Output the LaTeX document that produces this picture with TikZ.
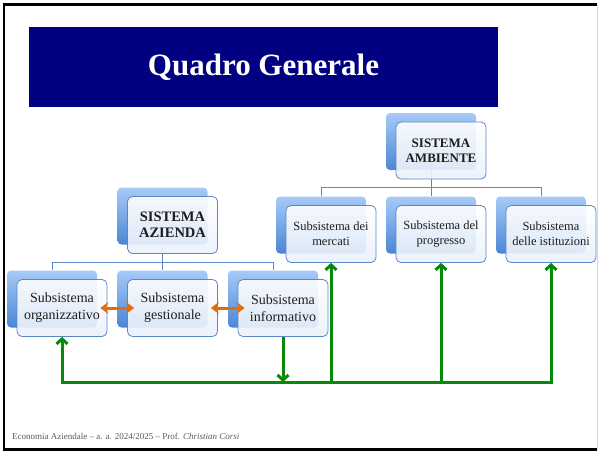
\documentclass[tikz,border=0pt]{standalone}
\usepackage{fontspec}
\setmainfont{Liberation Serif}
\usetikzlibrary{arrows.meta,backgrounds}

\definecolor{slidenavy}{HTML}{000080}
\definecolor{boxlight}{HTML}{A7CAF7}
\definecolor{boxdark}{HTML}{4A86D6}
\definecolor{boxline}{HTML}{5A88C6}
\definecolor{boxtint}{HTML}{EAF1FB}
\definecolor{linkorange}{HTML}{E46C0A}
\definecolor{loopgreen}{HTML}{078A07}
\definecolor{textgray}{HTML}{1E1E1E}
\definecolor{footgray}{HTML}{595959}

\tikzset{
  backbox/.style={rounded corners=4pt, minimum width=90pt, minimum height=57pt,
    top color=boxlight, bottom color=boxdark, inner sep=0pt},
  frontbox/.style={draw=boxline, line width=0.8pt, rounded corners=5pt,
    minimum width=90pt, minimum height=57pt, top color=white, bottom color=boxtint,
    fill opacity=0.9, text opacity=1, align=center, text=textgray, inner sep=1pt},
  lowbox/.style={frontbox, font=\fontsize{14}{17}\selectfont},
  highbox/.style={frontbox, font=\fontsize{12.5}{15}\selectfont},
  orgline/.style={draw=boxline, line width=0.8pt},
  twoway/.style={draw=linkorange, line width=3pt, {Stealth[length=8pt,width=12pt]}-{Stealth[length=8pt,width=12pt]},
    shorten <=-7pt, shorten >=-7pt},
  loopline/.style={draw=loopgreen, line width=3pt, arrows={-Straight Barb[length=5pt,width=11pt]}},
}

\begin{document}
\begin{tikzpicture}[x=1pt, y=-1pt]
  \useasboundingbox (0,0) rectangle (598,451);
  % --- slide frame and title ---
  \draw[line width=2.5pt] (597,4.5) -- (4,4.5) -- (4,449.5) -- (597,449.5);
  \draw[black!15, line width=1pt] (597,4.5) -- (597,449.5);
  \node[fill=slidenavy, text=white, minimum width=469pt, minimum height=80pt,
    font=\fontsize{31}{36}\selectfont\bfseries] (titleband) at (263.5,67) {Quadro Generale};
  \node[anchor=base west, inner sep=0pt, text=footgray, font=\fontsize{9}{11}\selectfont]
    (footer) at (12,439) {Economia Aziendale – a. a. 2024/2025 – Prof. \textit{Christian Corsi}};

  % --- sistema azienda ---
  \node[backbox] (aziendaBack) at (162.5,216) {};
  \node[frontbox, font=\fontsize{14.5}{16}\selectfont\bfseries] (azienda) at ([shift={(10pt,-9pt)}]aziendaBack) {SISTEMA\\AZIENDA};
  \node[backbox] (organizzativoBack) at (52,299) {};
  \node[lowbox] (organizzativo) at ([shift={(10pt,-9pt)}]organizzativoBack) {Subsistema\\organizzativo};
  \node[backbox] (gestionaleBack) at (162.5,299) {};
  \node[lowbox] (gestionale) at ([shift={(10pt,-9pt)}]gestionaleBack) {Subsistema\\gestionale};
  \node[backbox] (informativoBack) at (273,299) {};
  \node[lowbox] (informativo) at ([shift={(10pt,-9pt)}]informativoBack) {Subsistema\\informativo};

  % --- sistema ambiente ---
  \node[backbox] (ambienteBack) at (431,141.5) {};
  \node[frontbox, font=\fontsize{13}{15}\selectfont\bfseries] (ambiente) at ([shift={(10pt,-9pt)}]ambienteBack) {SISTEMA\\AMBIENTE};
  \node[backbox] (mercatiBack) at (321,225) {};
  \node[highbox] (mercati) at ([shift={(10pt,-9pt)}]mercatiBack) {Subsistema dei\\mercati};
  \node[backbox] (progressoBack) at (431,225) {};
  \node[highbox] (progresso) at ([shift={(10pt,-9pt)}]progressoBack) {Subsistema del\\progresso};
  \node[backbox] (istituzioniBack) at (541,225) {};
  \node[highbox] (istituzioni) at ([shift={(10pt,-9pt)}]istituzioniBack) {Subsistema\\delle istituzioni};

  % --- tree connectors ---
  \begin{scope}[on background layer]
    \coordinate (aziendaBar) at (162.5,262);
    \coordinate (ambienteBar) at (431,187);
    \draw[orgline] (aziendaBack.south) -- (aziendaBar);
    \foreach \n in {organizzativo,gestionale,informativo}
      \draw[orgline] (aziendaBar) -| (\n Back.north);
    \draw[orgline] (ambienteBack.south) -- (ambienteBar);
    \foreach \n in {mercati,progresso,istituzioni}
      \draw[orgline] (ambienteBar) -| (\n Back.north);
  \end{scope}

  % --- links between subsystems ---
  \draw[twoway] (organizzativo.east) -- (gestionale.west);
  \draw[twoway] (gestionale.east) -- (informativo.west);
  \coordinate (loopBar) at (0,382);
  \draw[loopline] (informativo.south) -- (informativo.south |- loopBar);
  \draw[loopline] (istituzioni.south |- loopBar) -- (organizzativo.south |- loopBar) -- ([xshift=0pt]organizzativo.south);
  \draw[loopline] (progresso.south |- loopBar) -| (istituzioni.south);
  \draw[loopline] (mercati.south |- loopBar) -- (mercati.south);
  \draw[loopline] (progresso.south |- loopBar) -- (progresso.south);
  % ---
\end{tikzpicture}
\end{document}
